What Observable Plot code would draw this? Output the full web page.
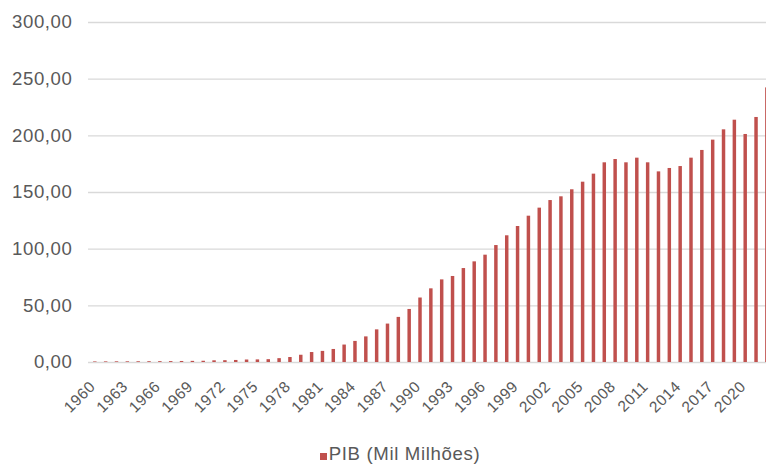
<!DOCTYPE html>
<html><head><meta charset="utf-8">
<script src="https://cdn.jsdelivr.net/npm/d3@7"></script>
<script src="https://cdn.jsdelivr.net/npm/@observablehq/plot@0.6"></script>
<style>
html,body{margin:0;padding:0;background:#fff;overflow:hidden;width:766px;height:464px}
#chart svg text{letter-spacing:0.6px}
#legend{position:absolute;left:17px;top:443px;width:766px;height:22px;display:flex;justify-content:center;align-items:center;font-family:"Liberation Sans",Arial,sans-serif;font-size:18.6px;letter-spacing:0.65px;color:#595959}
#legend .sw{display:inline-block;width:7px;height:7px;background:#C0504D;margin-right:2px;margin-top:4px}
</style></head>
<body>
<div id="chart"></div>
<div id="legend"><span class="sw"></span><span>PIB (Mil Milhões)</span></div>
<script>
const years = d3.range(1960, 2023);
const pib = [
  0.5, 0.55, 0.6, 0.6, 0.65, 0.7, 0.75, 0.8, 0.9, 1.0, 1.1,
  1.5, 1.6, 1.8, 2.2, 2.3, 2.5, 3.4, 4.4, 6.4, 8.8,
  9.8, 11.5, 15.4, 18.6, 22.6, 28.8, 33.9, 39.8, 46.8, 56.9,
  65.0, 72.9, 75.9, 82.9, 88.8, 94.7, 103.2, 111.8, 120.0, 129.1,
  136.2, 142.9, 146.2, 152.4, 159.1, 166.2, 176.2, 179.1, 176.2, 180.3,
  176.2, 168.2, 171.2, 172.9, 180.3, 187.1, 196.2, 205.3, 213.8, 201.2,
  216.2, 242.3
];
const xTicks = d3.range(1960, 2021, 3);
const yTicks = [0, 50, 100, 150, 200, 250, 300];
const seriesName = "PIB (Mil Milhões)";

const data = years.map((year, i) => ({year, pib: pib[i]}));

const chart = Plot.plot({
  width: 766,
  height: 436,
  marginLeft: 88,
  marginRight: 0,
  marginTop: 22,
  marginBottom: 74,
  style: {fontFamily: "'Liberation Sans', Arial, sans-serif", color: "#595959", background: "#fff"},
  x: {type: "band", domain: years, range: [89.4, 772.3], paddingInner: 0.68, paddingOuter: 0.34, axis: null, label: null},
  y: {domain: [0, 300], label: null},
  marks: [
    Plot.ruleY(yTicks, {stroke: "#d9d9d9", strokeWidth: 1.3}),
    Plot.barY(data, {x: "year", y: "pib", fill: "#C0504D"}),
    Plot.axisY({ticks: yTicks, tickSize: 0, tickPadding: 16, fontSize: 18.6, fill: "#595959", label: null,
      tickFormat: d => d.toFixed(2).replace(".", ",")}),
    Plot.text(xTicks, {x: d => d, text: d => String(d), frameAnchor: "bottom", rotate: -45,
      textAnchor: "end", fontSize: 15.5, fill: "#595959", dx: 1, dy: 25})
  ]
});
d3.select(chart).selectAll('g[aria-label="text"]').attr("font-size", null).style("font-size", "15.5px");
d3.select(chart).selectAll('g[aria-label="text"] text').style("font-size", "15.5px");
document.getElementById("chart").appendChild(chart);
</script>
</body></html>
